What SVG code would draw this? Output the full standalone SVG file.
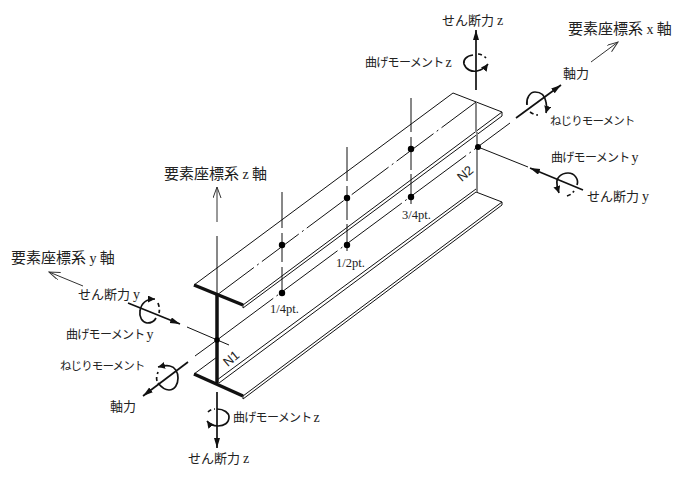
<svg xmlns="http://www.w3.org/2000/svg" width="680" height="480" viewBox="0 0 680 480">
<style>
text{font-family:"Noto Sans CJK JP","Liberation Sans",sans-serif;font-size:12px;fill:#222}
.lat{font-family:"Liberation Serif",serif;font-size:14px;letter-spacing:0}
.pt{font-family:"Liberation Serif",serif;font-size:12.5px}
.ax{font-size:15px}
.sh{font-size:13px}
.mo{font-size:12px;letter-spacing:-.7px}
.tw{font-size:11.5px;letter-spacing:-.9px}
.nn{font-family:"Liberation Sans",sans-serif;font-size:13px}
line,path{fill:none;stroke:#111;stroke-width:1}
.thick{stroke-width:3.5;stroke-linecap:butt}
.force{stroke-width:1.7;marker-end:url(#fh)}
.axis{stroke-width:1;marker-end:url(#oh);stroke:#333}
.cl{stroke-dasharray:46 4 2 4}
.cl2{stroke-dasharray:70 4 2 4}
.rotd{stroke-width:1.7;stroke-dasharray:4 3}
.rota{stroke-width:1.7;marker-end:url(#rh)}
.gray{stroke:#888;stroke-width:2}
</style>
<defs>
<marker id="fh" markerUnits="userSpaceOnUse" markerWidth="12" markerHeight="8" refX="10" refY="3" orient="auto"><path d="M0 0L10 3L0 6Z" style="fill:#111;stroke:none"/></marker>
<marker id="oh" markerUnits="userSpaceOnUse" markerWidth="12" markerHeight="10" refX="11" refY="4" orient="auto"><path d="M0 0L11 4L0 8" style="stroke:#333;stroke-width:1"/></marker>
<marker id="rh" markerUnits="userSpaceOnUse" markerWidth="9" markerHeight="8" refX="7" refY="3.5" orient="auto"><path d="M0 0L7 3.5L0 7Z" style="fill:#111;stroke:none"/></marker>
</defs>
<g id="beam">
<path d="M194 285L453 93L502 112L243 305"/>
<path d="M243 308L502 116V112"/>
<path d="M243 305V308"/>
<path d="M194 374L217 357"/>
<path d="M217 380L476 189"/>
<path d="M219 383L476 192L502 202L243 396"/>
<path d="M243 399L502 205V202"/>
<path d="M243 396V399"/>
<line class="thick" x1="194" y1="285" x2="243" y2="305"/>
<line class="thick" x1="194" y1="374" x2="243" y2="396"/>
<line class="thick" x1="217" y1="295" x2="217" y2="383"/>
<line class="gray" x1="476" y1="102" x2="476" y2="132"/>
<line class="gray" x1="477" y1="132" x2="477" y2="192"/>
</g>
<g id="connectors">
<line class="cl" x1="217" y1="295" x2="476" y2="102"/>
<line class="cl2" x1="217" y1="340" x2="510" y2="123"/>
<line x1="217" y1="340" x2="195" y2="356"/>
<line x1="187" y1="327" x2="229" y2="345"/>
<line x1="478" y1="147" x2="528" y2="167"/>
<line x1="217" y1="295" x2="217" y2="236"/>
<line class="axis" x1="217" y1="222" x2="217" y2="187"/>
<line x1="282" y1="192" x2="282" y2="228"/>
<line x1="282" y1="233" x2="282" y2="262"/>
<line x1="282" y1="267" x2="282" y2="293"/>
<line x1="347" y1="147" x2="347" y2="181"/>
<line x1="347" y1="186" x2="347" y2="220"/>
<line x1="347" y1="224" x2="347" y2="251"/>
<line x1="411" y1="98" x2="411" y2="132"/>
<line x1="411" y1="137" x2="411" y2="170"/>
<line x1="411" y1="174" x2="411" y2="204"/>
<line class="force" x1="476" y1="90" x2="476" y2="30"/>
<line class="force" x1="217" y1="392" x2="217" y2="448"/>
<line class="force" x1="516" y1="118" x2="561" y2="85"/>
<line class="force" x1="188" y1="362" x2="143" y2="396"/>
<line class="force" x1="583" y1="190" x2="530" y2="168"/>
<line class="force" x1="128" y1="303" x2="180" y2="324"/>
<line class="axis" x1="591" y1="62" x2="618" y2="42"/>
<line class="axis" x1="83" y1="286" x2="49" y2="272"/>
<path class="rota" d="M473 55C466 56 463 60 464 64C466 70 472 72 477 71C481 70 485 68 488 64"/>
<path class="rotd" d="M478 54C481 54 484 56 486 58"/>
<path class="rota" d="M527 105C526 98 530 92 535 92C541 92 545 96 546 102C547 106 547 109 546 113"/>
<path class="rotd" d="M530 112C533 114 535 115 538 115"/>
<path class="rota" d="M577 185C579 180 575 173 568 173C561 173 556 178 557 184C557 188 558 190 559 193"/>
<path class="rotd" d="M567 196C570 195 572 194 574 191"/>
<path class="rota" d="M156 318C154 322 150 323 147 323C142 322 139 317 140 311C141 304 145 299 155 299"/>
<path class="rotd" d="M158 303C159 306 160 309 159 313"/>
<path class="rota" d="M158 383C162 388 166 390 169 390C175 390 178 384 178 378C178 372 175 367 170 366C166 365 162 366 158 367"/>
<path class="rotd" d="M157 381C156 378 157 375 158 372"/>
<path class="rota" d="M217 409C224 409 229 413 229 417C229 423 224 426 218 426C214 426 210 425 207 421"/>
<path class="rotd" d="M208 412C210 410 212 409 215 409"/>
</g>
<g id="points">
<circle cx="217" cy="340" r="2.8"/>
<circle cx="478" cy="147" r="3"/>
<circle cx="282" cy="245" r="3.2"/>
<circle cx="282" cy="293" r="3.2"/>
<circle cx="347" cy="198" r="3.2"/>
<circle cx="347" cy="245" r="3.2"/>
<circle cx="411" cy="149" r="3.2"/>
<circle cx="411" cy="197" r="3.2"/>
</g>
<g id="labels">
<text class="sh" x="442" y="25">せん断力 <tspan class="lat">z</tspan></text>
<text class="ax" x="568" y="34">要素座標系 <tspan class="lat">x</tspan> 軸</text>
<text class="mo" x="365" y="67">曲げモーメント <tspan class="lat">z</tspan></text>
<text class="sh" x="563" y="78">軸力</text>
<text class="tw" x="550" y="125">ねじりモーメント</text>
<text class="mo" x="551" y="162">曲げモーメント <tspan class="lat">y</tspan></text>
<text class="sh" x="587" y="201">せん断力 <tspan class="lat">y</tspan></text>
<text class="ax" x="11" y="263">要素座標系 <tspan class="lat">y</tspan> 軸</text>
<text class="sh" x="78" y="299">せん断力 <tspan class="lat">y</tspan></text>
<text class="mo" x="66" y="339">曲げモーメント <tspan class="lat">y</tspan></text>
<text class="tw" x="60" y="370">ねじりモーメント</text>
<text class="sh" x="110" y="411">軸力</text>
<text class="mo" x="233" y="422">曲げモーメント <tspan class="lat">z</tspan></text>
<text class="sh" x="188" y="463">せん断力 <tspan class="lat">z</tspan></text>
<text class="ax" x="164" y="179">要素座標系 <tspan class="lat">z</tspan> 軸</text>
<text class="pt" x="270" y="313">1/4pt.</text>
<text class="pt" x="336" y="267">1/2pt.</text>
<text class="pt" x="402" y="219">3/4pt.</text>
<text class="nn" text-anchor="middle" transform="translate(468 177) rotate(-40)">N2</text>
<text class="nn" text-anchor="middle" transform="translate(234 362) rotate(-40)">N1</text>
</g>
</svg>
